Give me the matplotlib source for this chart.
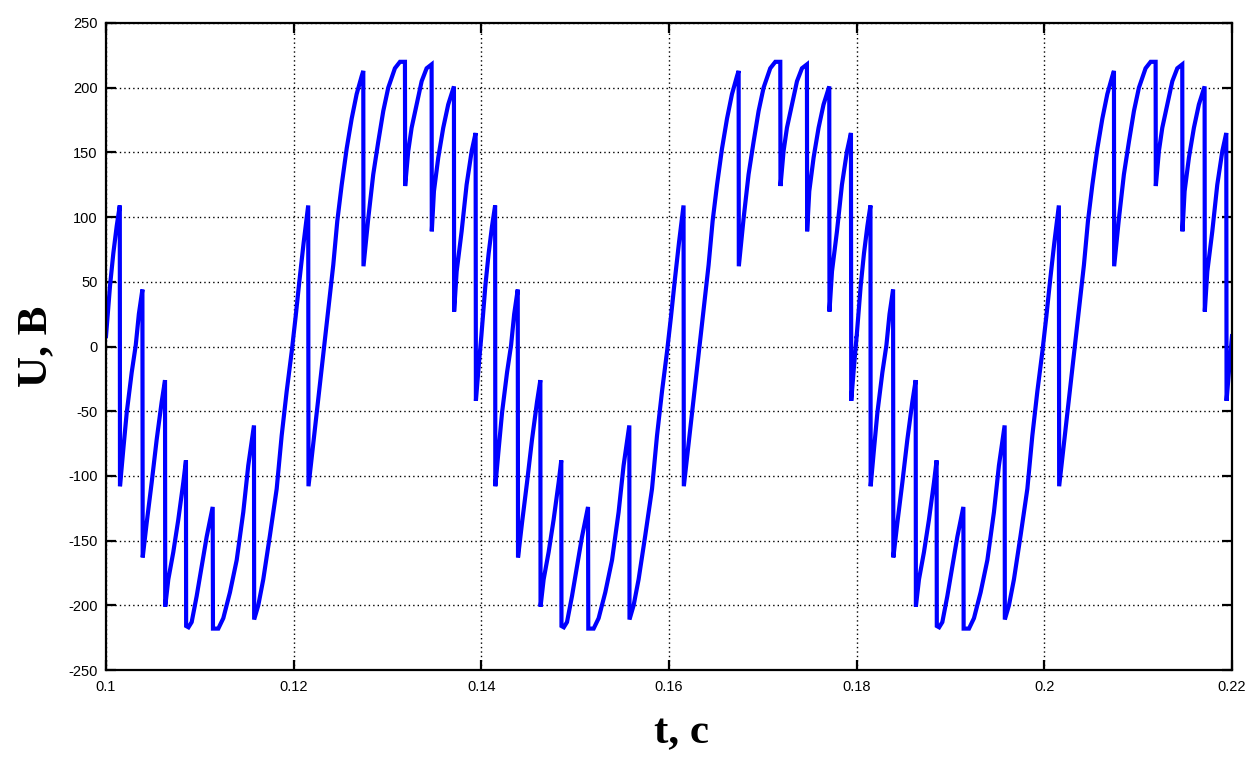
import matplotlib
matplotlib.use("Agg")
import matplotlib.pyplot as plt
import numpy as np

plt.rcParams["axes.unicode_minus"] = False

# start time of each visible period of the waveform (s)
period_starts = [0.10, 0.14, 0.18]

# one period of the waveform: time offset within the period (s) and voltage (V)
dt_period = [0.00000, 0.00043, 0.00078, 0.00114, 0.00147, 0.00149, 0.00185, 0.00221, 0.00274, 0.00317,
             0.00350, 0.00388, 0.00391, 0.00434, 0.00487, 0.00540, 0.00593, 0.00629, 0.00631, 0.00664,
             0.00717, 0.00770, 0.00824, 0.00852, 0.00854, 0.00879, 0.00913, 0.00966, 0.01020, 0.01073,
             0.01137, 0.01140, 0.01197, 0.01250, 0.01321, 0.01393, 0.01463, 0.01516, 0.01577, 0.01579,
             0.01623, 0.01676, 0.01747, 0.01819, 0.01872, 0.01925, 0.01979, 0.02021, 0.02063, 0.02106,
             0.02155, 0.02158, 0.02209, 0.02262, 0.02315, 0.02369, 0.02422, 0.02465, 0.02512, 0.02565,
             0.02618, 0.02671, 0.02725, 0.02742, 0.02744, 0.02795, 0.02848, 0.02901, 0.02955, 0.03008,
             0.03079, 0.03133, 0.03186, 0.03188, 0.03221, 0.03257, 0.03311, 0.03364, 0.03417, 0.03470,
             0.03472, 0.03495, 0.03541, 0.03594, 0.03647, 0.03708, 0.03710, 0.03737, 0.03790, 0.03843,
             0.03897, 0.03939, 0.03942, 0.03972, 0.04000]
u_period = [8, 47, 72, 93, 109, -108, -79, -51, -20, 1,
            25, 44, -163, -136, -105, -72, -43, -26, -201, -180,
            -159, -134, -105, -88, -216, -217, -213, -193, -170, -147,
            -124, -218, -218, -210, -190, -165, -128, -92, -61, -211,
            -200, -180, -146, -110, -69, -35, -4, 23, 52, 80,
            109, -108, -75, -41, -7, 28, 63, 97, 125, 153,
            176, 195, 209, 213, 62, 99, 133, 158, 182, 200,
            215, 220, 220, 124, 151, 169, 187, 205, 215, 218,
            89, 120, 146, 169, 187, 201, 27, 58, 89, 125,
            151, 165, -42, -15, 8]

x_ticks = [0.1, 0.12, 0.14, 0.16, 0.18, 0.2, 0.22]
x_ticklabels = ["0.1", "0.12", "0.14", "0.16", "0.18", "0.2", "0.22"]
y_ticks = [-250, -200, -150, -100, -50, 0, 50, 100, 150, 200, 250]

t_all = np.concatenate([s + np.array(dt_period) for s in period_starts])
u_all = np.concatenate([np.array(u_period, dtype=float) for _ in period_starts])

fig = plt.figure(figsize=(12.58, 7.58), dpi=100)
ax = fig.add_axes([106 / 1258, 1 - 670 / 758, (1232 - 106) / 1258, (670 - 23) / 758])

ax.plot(t_all, u_all, color=(0, 0, 1), lw=3.0, solid_joinstyle="miter")

ax.set_xlim(0.1, 0.22)
ax.set_ylim(-250, 250)
ax.set_xticks(x_ticks)
ax.set_xticklabels(x_ticklabels)
ax.set_yticks(y_ticks)

ax.grid(True, color="black", linestyle=(0, (1, 2.2)), linewidth=1.0)
for sp in ax.spines.values():
    sp.set_linewidth(1.6)
    sp.set_color("black")

ax.tick_params(direction="in", length=7, width=1.6, top=True, right=True,
               labelsize=10.5, colors="black")
ax.tick_params(axis="x", pad=7)
ax.tick_params(axis="y", pad=6)
for lab in ax.get_xticklabels() + ax.get_yticklabels():
    lab.set_family(["Liberation Sans", "DejaVu Sans"])

ax.set_xlabel("t, с", fontsize=31, fontweight="bold", family=["Liberation Serif", "DejaVu Serif"], labelpad=15)
ax.xaxis.label.set_x(0.5115)
ax.set_ylabel("U, В", fontsize=31, fontweight="bold", family=["Liberation Serif", "DejaVu Serif"], labelpad=9)

fig.savefig("out.png", dpi=100)
